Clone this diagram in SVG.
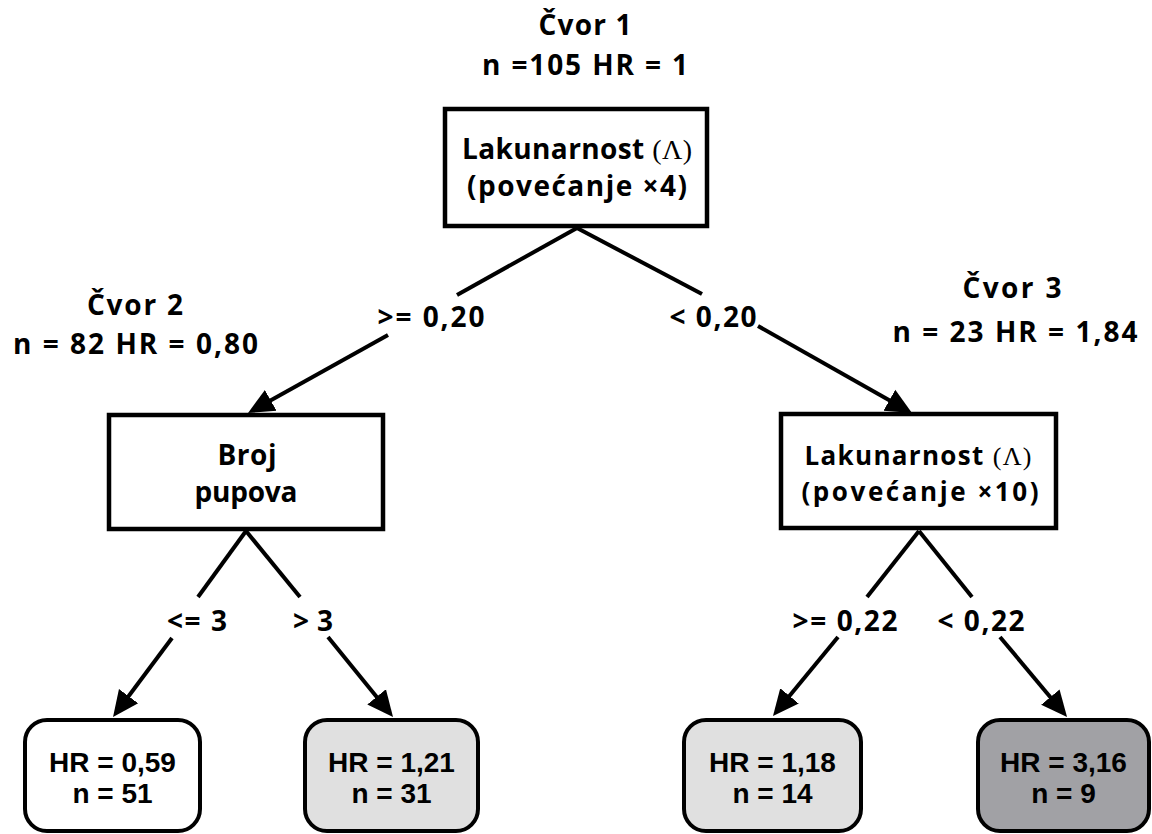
<svg xmlns="http://www.w3.org/2000/svg" width="1152" height="834" viewBox="0 0 1152 834">
<style>
.lbl{font-family:"Open Sans","DejaVu Sans",sans-serif;font-weight:bold;font-size:28px;fill:#000;text-anchor:middle}
.sm{font-size:26px}
.leaf{font-family:"Liberation Sans",Arial,sans-serif;font-weight:bold;font-size:28px;fill:#000;text-anchor:middle}
.box{fill:#fff;stroke:#000;stroke-width:4.5}
.lf{stroke:#000;stroke-width:4}
.ln{stroke:#000;stroke-width:4;fill:none}
.sym{font-family:"Liberation Serif",serif;font-weight:normal}
</style>
<defs>
<marker id="ah" markerUnits="userSpaceOnUse" markerWidth="28" markerHeight="26" viewBox="0 -13 28 26" refX="6" refY="0" orient="auto">
<path d="M0,-12 L26,0 L0,12 z" fill="#000"/>
</marker>
</defs>
<rect width="1152" height="834" fill="#fff"/>

<g id="connectors">
<line class="ln" x1="577" y1="228" x2="457" y2="295"/>
<line class="ln" x1="388" y1="335" x2="265.5" y2="403.3" marker-end="url(#ah)"/>
<line class="ln" x1="577" y1="228" x2="702" y2="294"/>
<line class="ln" x1="758" y1="326" x2="894.6" y2="403.2" marker-end="url(#ah)"/>
<line class="ln" x1="246" y1="531" x2="198" y2="597"/>
<line class="ln" x1="172" y1="638" x2="125" y2="701" marker-end="url(#ah)"/>
<line class="ln" x1="246" y1="531" x2="300" y2="597"/>
<line class="ln" x1="328" y1="637" x2="380.4" y2="701.5" marker-end="url(#ah)"/>
<line class="ln" x1="919" y1="531" x2="867" y2="597"/>
<line class="ln" x1="838" y1="637" x2="785.7" y2="700.6" marker-end="url(#ah)"/>
<line class="ln" x1="919" y1="531" x2="972" y2="597"/>
<line class="ln" x1="1000" y1="637" x2="1054.2" y2="701.7" marker-end="url(#ah)"/>
<text class="lbl" x="431" y="327" textLength="107" lengthAdjust="spacing">&gt;= 0,20</text>
<text class="lbl" x="713" y="327" textLength="87" lengthAdjust="spacing">&lt; 0,20</text>
<text class="lbl" x="197" y="631" textLength="60" lengthAdjust="spacing">&lt;= 3</text>
<text class="lbl" x="313" y="631" textLength="40" lengthAdjust="spacing">&gt; 3</text>
<text class="lbl" x="845" y="631" textLength="105" lengthAdjust="spacing">&gt;= 0,22</text>
<text class="lbl" x="981" y="631" textLength="87" lengthAdjust="spacing">&lt; 0,22</text>
</g>

<g id="node1">
<text class="lbl" x="585" y="35" textLength="93" lengthAdjust="spacing">Čvor 1</text>
<text class="lbl" x="585" y="75" textLength="206" lengthAdjust="spacing">n =105 HR = 1</text>
<rect class="box" x="445" y="109" width="262" height="117"/>
<text class="lbl" x="577" y="159" textLength="230" lengthAdjust="spacing">Lakunarnost <tspan class="sym">(Λ)</tspan></text>
<text class="lbl" x="577" y="196" textLength="220" lengthAdjust="spacing">(povećanje ×4)</text>
</g>

<g id="node2">
<text class="lbl" x="135" y="315" textLength="96" lengthAdjust="spacing">Čvor 2</text>
<text class="lbl" x="135.5" y="354" textLength="245" lengthAdjust="spacing">n = 82 HR = 0,80</text>
<rect class="box" x="109" y="415" width="274" height="114"/>
<text class="lbl" x="247" y="465" textLength="59" lengthAdjust="spacing">Broj</text>
<text class="lbl" x="246" y="502" textLength="103" lengthAdjust="spacing">pupova</text>
</g>

<g id="node3">
<text class="lbl" x="1012" y="298" textLength="99" lengthAdjust="spacing">Čvor 3</text>
<text class="lbl" x="1015" y="342" textLength="245" lengthAdjust="spacing">n = 23 HR = 1,84</text>
<rect class="box" x="781" y="414" width="275" height="114"/>
<text class="lbl sm" x="918" y="465" textLength="227" lengthAdjust="spacing">Lakunarnost <tspan class="sym">(Λ)</tspan></text>
<text class="lbl sm" x="920" y="501" textLength="237" lengthAdjust="spacing">(povećanje ×10)</text>
</g>

<g id="leaf1">
<rect class="lf" x="25" y="720" width="175" height="111" rx="22" fill="#ffffff"/>
<text class="leaf" x="112.5" y="772">HR = 0,59</text>
<text class="leaf" x="112.5" y="803">n = 51</text>
</g>
<g id="leaf2">
<rect class="lf" x="305" y="720" width="173" height="111" rx="22" fill="#e0e0e0"/>
<text class="leaf" x="391.5" y="772">HR = 1,21</text>
<text class="leaf" x="391.5" y="803">n = 31</text>
</g>
<g id="leaf3">
<rect class="lf" x="684" y="720" width="177" height="111" rx="22" fill="#e0e0e0"/>
<text class="leaf" x="772.5" y="772">HR = 1,18</text>
<text class="leaf" x="772.5" y="803">n = 14</text>
</g>
<g id="leaf4">
<rect class="lf" x="978" y="720" width="171" height="111" rx="22" fill="#a1a1a5"/>
<text class="leaf" x="1063.5" y="772">HR = 3,16</text>
<text class="leaf" x="1063.5" y="803">n = 9</text>
</g>
</svg>
